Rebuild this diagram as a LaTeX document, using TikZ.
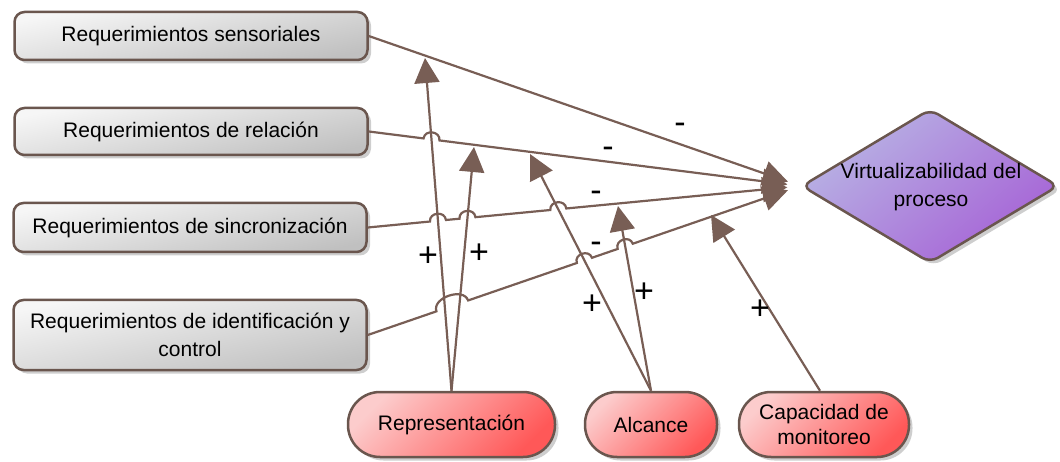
\documentclass[tikz,border=0pt]{standalone}
\usepackage{fontspec}
\setmainfont{Liberation Sans}
\usetikzlibrary{arrows.meta,shapes.geometric,shadows,calc}
\definecolor{brn}{RGB}{120,94,85}
\definecolor{bord}{RGB}{106,86,78}
\definecolor{gtop}{RGB}{246,246,246}
\definecolor{gbot}{RGB}{192,192,192}
\definecolor{rtop}{RGB}{252,204,204}
\definecolor{rbot}{RGB}{255,88,88}
\definecolor{ptop}{RGB}{184,180,228}
\definecolor{pbot}{RGB}{166,98,214}
\begin{document}
\begin{tikzpicture}[x=1pt,y=-1pt,
  shad/.style={drop shadow={shadow xshift=3.5pt,shadow yshift=-3.5pt,fill=black!35,opacity=.55}},
  reqbox/.style={shad,draw=bord,line width=2.5pt,rounded corners=10pt,
    top color=gtop,bottom color=gbot,shading angle=12,
    minimum width=353pt,inner sep=0pt,align=center,
    font=\fontsize{21}{28}\selectfont},
  botbox/.style={shad,draw=bord,line width=2.5pt,rounded corners=32pt,
    top color=rtop,bottom color=rbot,shading angle=45,
    minimum height=65pt,inner sep=0pt,align=center,
    font=\fontsize{21}{25}\selectfont},
  goalbox/.style={shad,diamond,draw=bord,line width=2.5pt,rounded corners=9pt,
    top color=ptop,bottom color=pbot,shading angle=40,
    minimum width=257pt,minimum height=154pt,inner sep=0pt},
  goaltext/.style={align=center,inner sep=0pt,font=\fontsize{21}{28}\selectfont},
  conn/.style={draw=brn,line width=2.2pt,-{Triangle[length=25pt,width=25pt]}},
  hopbend/.style={bend left=90,looseness=1.5},
  sign/.style={font=\fontsize{34}{36}\selectfont,inner sep=0pt}
]
\useasboundingbox (0,0) rectangle (1060,462);

% nodes
\node[reqbox,minimum height=48pt] (R1) at (191,36) {Requerimientos sensoriales};
\node[reqbox,minimum height=47pt] (R2) at (191,131.5) {Requerimientos de relación};
\node[reqbox,minimum height=49pt] (R3) at (190,227.5) {Requerimientos de sincronización};
\node[reqbox,minimum height=70pt] (R4) at (190,335) {Requerimientos de identificación y\\control};
\node[goalbox] (D) at (930,186) {};
\node[goaltext] (Dt) at (931,187) {Virtualizabilidad del\\proceso};
\node[botbox,minimum width=207pt] (Rep) at (451.5,424.5) {Representación};
\node[botbox,minimum width=132pt] (Alc) at (651,424.5) {Alcance};
\node[botbox,minimum width=170pt] (Cap) at (824,424.5) {Capacidad de\\monitoreo};

% arrow tips of the influence arrows
\coordinate (t1) at (425,58);
\coordinate (t2) at (474,147);
\coordinate (t3) at (530,154);
\coordinate (t4) at (618,206);
\coordinate (t5) at (711,215);

% crossing points
\coordinate (h21) at (intersection of R2.east--D.west and Rep.north--t1);
\coordinate (h31) at (intersection of R3.east--D.west and Rep.north--t1);
\coordinate (h32) at (intersection of R3.east--D.west and Rep.north--t2);
\coordinate (h33) at (intersection of R3.east--D.west and Alc.north--t3);
\coordinate (h41) at (intersection of R4.east--D.west and Rep.north--t1);
\coordinate (h42) at (intersection of R4.east--D.west and Rep.north--t2);
\coordinate (h43) at (intersection of R4.east--D.west and Alc.north--t3);
\coordinate (h44) at (intersection of R4.east--D.west and Alc.north--t4);

% requirement lines
\draw[conn,shorten >=13pt] (R1.east) -- (D.west);
\draw[conn,shorten >=13pt] (R2.east)
  -- ($(h21)!8pt!(R2.east)$) to[hopbend] ($(h21)!8pt!(D.west)$)
  -- (D.west);
\draw[conn,shorten >=13pt] (R3.east)
  -- ($(h31)!8pt!(R3.east)$) to[hopbend] ($(h31)!8pt!(D.west)$)
  -- ($(h32)!8pt!(R3.east)$) to[hopbend] ($(h32)!8pt!(D.west)$)
  -- ($(h33)!8pt!(R3.east)$) to[hopbend] ($(h33)!8pt!(D.west)$)
  -- (D.west);
\draw[conn,shorten >=13pt] (R4.east)
  -- ($(h41)!9pt!(R4.east)$) to[bend left=90,looseness=1.1] ($(h42)!9pt!(D.west)$)
  -- ($(h43)!8pt!(R4.east)$) to[hopbend] ($(h43)!8pt!(D.west)$)
  -- ($(h44)!8pt!(R4.east)$) to[hopbend] ($(h44)!8pt!(D.west)$)
  -- (D.west);

% influence arrows
\draw[conn] (Rep.north) -- (t1);
\draw[conn] (Rep.north) -- (t2);
\draw[conn] (Alc.north) -- (t3);
\draw[conn] (Alc.north) -- (t4);
\draw[conn] ($(Cap.north)+(-4,0)$) -- (t5);

% signs
\node[sign] (m1) at (680,128) {-};
\node[sign] (m2) at (608,152) {-};
\node[sign] (m3) at (596,196) {-};
\node[sign] (m4) at (596,247) {-};
\node[sign] (p1) at (428,257) {+};
\node[sign] (p2) at (479,254) {+};
\node[sign] (p3) at (592,305) {+};
\node[sign] (p4) at (644,293) {+};
\node[sign] (p5) at (760,310) {+};
\end{tikzpicture}
\end{document}
